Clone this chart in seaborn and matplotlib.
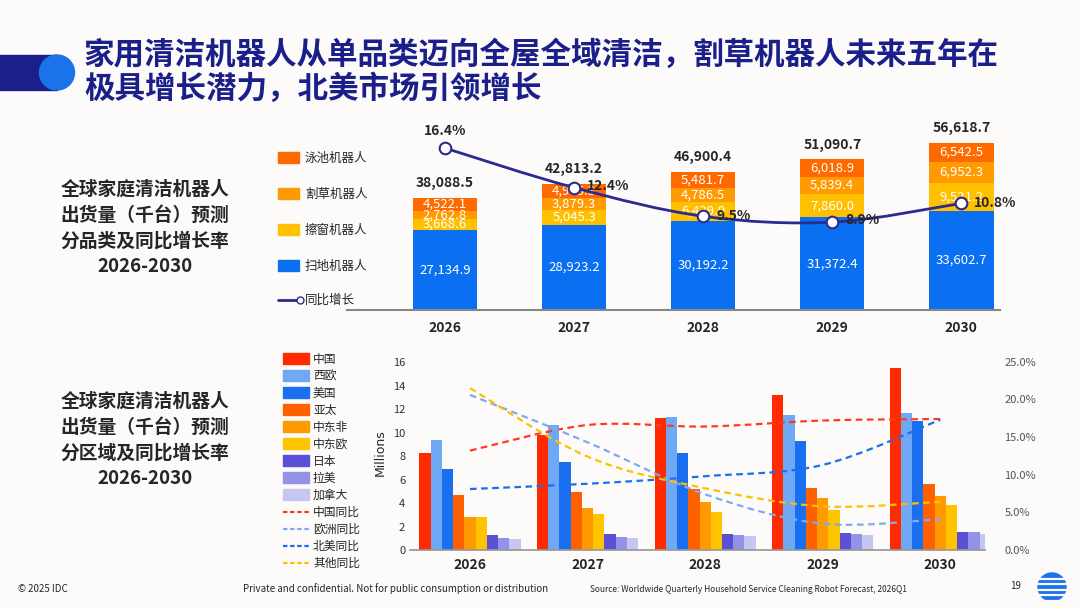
import numpy as np
import pandas as pd
import matplotlib
matplotlib.use("Agg")
import matplotlib.pyplot as plt
import matplotlib.ticker as mticker
from matplotlib.path import Path
from matplotlib.patches import PathPatch, Ellipse, Rectangle
import seaborn as sns

sns.set_theme(style="white")
plt.rcParams["font.family"] = ["Noto Sans CJK SC", "DejaVu Sans"]

# ── Data ─────────────────────────────────────────────────────────────────────
years = ["2026", "2027", "2028", "2029", "2030"]
floor = [27134.9, 28923.2, 30192.2, 31372.4, 33602.7]
window = [3668.6, 5045.3, 6439.9, 7860.0, 9521.2]
mower = [2762.8, 3879.3, 4786.5, 5839.4, 6952.3]
pool = [4522.1, 4965.3, 5481.7, 6018.9, 6542.5]
totals = [38088.5, 42813.2, 46900.4, 51090.7, 56618.7]
growth = [16.4, 12.4, 9.5, 8.9, 10.8]

regions = ["中国", "西欧", "美国", "亚太", "中东非", "中东欧", "日本", "拉美", "加拿大"]
region_vals = {
    "中国":  [8.3, 9.8, 11.2, 13.2, 15.5],
    "西欧":  [9.4, 10.6, 11.3, 11.5, 11.7],
    "美国":  [6.9, 7.5, 8.3, 9.3, 11.0],
    "亚太":  [4.7, 4.9, 5.2, 5.3, 5.6],
    "中东非": [2.8, 3.6, 4.1, 4.4, 4.6],
    "中东欧": [2.8, 3.1, 3.2, 3.4, 3.8],
    "日本":  [1.3, 1.4, 1.4, 1.45, 1.5],
    "拉美":  [1.0, 1.1, 1.3, 1.4, 1.5],
    "加拿大": [0.95, 1.05, 1.15, 1.3, 1.4],
}
yoy_names = ["中国同比", "欧洲同比", "北美同比", "其他同比"]
yoy_vals = {
    "中国同比": [13.2, 16.6, 16.4, 17.2, 17.4],
    "欧洲同比": [20.6, 14.3, 7.4, 3.5, 4.1],
    "北美同比": [8.1, 8.8, 9.8, 11.3, 17.3],
    "其他同比": [21.5, 12.4, 8.2, 5.8, 6.4],
}

NAVY = "#1b1f8a"
BLUE = "#0a6ff0"
seg_colors = [BLUE, "#ffc000", "#ff9a00", "#ff6a00"]
reg_colors = ["#ff2a00", "#6fa8f5", "#1a6ff0", "#ff6000", "#ff9a00",
              "#ffc400", "#5b4fd6", "#9293e8", "#c6c6f2"]
yoy_colors = ["#ff3b1f", "#7fa9f0", "#1a6ff0", "#ffc000"]
BG = "#fdfbf9"
W, H = 1080, 608


def smooth_path(xs, ys):
    # Catmull-Rom through the points, drawn as cubic Bezier segments
    pts = np.column_stack([xs, ys]).astype(float)
    verts = [pts[0]]
    codes = [Path.MOVETO]
    for i in range(len(pts) - 1):
        p0 = pts[i - 1] if i > 0 else pts[i]
        p1, p2 = pts[i], pts[i + 1]
        p3 = pts[i + 2] if i + 2 < len(pts) else pts[i + 1]
        verts += [p1 + (p2 - p0) / 6, p2 - (p3 - p1) / 6, p2]
        codes += [Path.CURVE4] * 3
    return Path(verts, codes)


def circle_px(cx, cy, r, color):
    fig.patches.append(Ellipse((cx / W, 1 - cy / H), 2 * r / W, 2 * r / H,
                               transform=fig.transFigure, color=color))


fig = plt.figure(figsize=(10.8, 6.08), dpi=100, facecolor=BG)

# ── Header ───────────────────────────────────────────────────────────────────
fig.patches.append(Rectangle((0, 1 - 90 / H), 57 / W, 35 / H,
                             transform=fig.transFigure, color=NAVY))
circle_px(57, 72.5, 17.5, "#1a73e8")
fig.text(84 / W, 1 - 55 / H, "家用清洁机器人从单品类迈向全屋全域清洁，割草机器人未来五年在",
         fontsize=22, fontweight="bold", color=NAVY, va="center")
fig.text(84 / W, 1 - 89 / H, "极具增长潜力，北美市场引领增长",
         fontsize=22, fontweight="bold", color=NAVY, va="center")

fig.text(145 / W, 1 - 228 / H, "全球家庭清洁机器人\n出货量（千台）预测\n分品类及同比增长率\n2026-2030",
         fontsize=13.5, fontweight="bold", ha="center", va="center", linespacing=1.45)
fig.text(145 / W, 1 - 440 / H, "全球家庭清洁机器人\n出货量（千台）预测\n分区域及同比增长率\n2026-2030",
         fontsize=13.5, fontweight="bold", ha="center", va="center", linespacing=1.45)

# ── Top chart ────────────────────────────────────────────────────────────────
ax = fig.add_axes([347 / W, 1 - 310 / H, 653 / W, 190 / H])
ax.set_facecolor("none")
x = np.arange(len(years))
bottom = np.zeros(len(years))
seg_names = ["扫地机器人", "擦窗机器人", "割草机器人", "泳池机器人"]
for vals, col in zip([floor, window, mower, pool], seg_colors):
    ax.bar(x, vals, bottom=bottom, width=0.5, color=col, linewidth=0)
    for xi, b, v in zip(x, bottom, vals):
        ax.text(xi, b + v / 2, f"{v:,.1f}",
                ha="center", va="center", color="white", fontsize=9.5)
    bottom += np.array(vals)
for xi, t in zip(x, totals):
    ax.text(xi, t + 2600, f"{t:,.1f}", ha="center", va="bottom",
            fontsize=10, fontweight="bold")
ax.set_xlim(-0.76, 4.3)
ax.set_ylim(0, 64400)
ax.set_yticks([])
ax.set_xticks(x)
ax.set_xticklabels(years, fontsize=10, fontweight="bold")
ax.tick_params(axis="x", length=0, pad=8)
for s in ["top", "right", "left"]:
    ax.spines[s].set_visible(False)
ax.spines["bottom"].set_color("#888888")
ax.spines["bottom"].set_linewidth(1.5)

ax2 = ax.twinx()
ax2.set_ylim(0, 19.25)
ax2.axis("off")
ax2.add_patch(PathPatch(smooth_path(x, growth), fill=False, edgecolor="#2a2a8f", lw=2))
ax2.scatter(x, growth, s=70, facecolor="white", edgecolor="#2a2a8f", lw=1.5, zorder=5)
offs = [(0, 1.0, "center"), (0.1, 0.15, "left"), (0.1, 0, "left"),
        (0.1, 0.2, "left"), (0.1, 0, "left")]
for xi, g, (dx, dy, ha) in zip(x, growth, offs):
    ax2.text(xi + dx, g + dy, f"{g}%", ha=ha, va="bottom" if dy > 0.5 else "center",
             fontsize=10, fontweight="bold")

# top legend
for i, (name, col) in enumerate(zip(seg_names[::-1], seg_colors[::-1])):
    yy = 1 - (158 + 36 * i) / H
    fig.patches.append(Rectangle((278 / W, yy - 5 / H), 21 / W, 11 / H,
                                 transform=fig.transFigure, color=col))
    fig.text(305 / W, yy, name, fontsize=9, va="center")
yy = 1 - 300 / H
fig.lines.append(plt.Line2D([278 / W, 300 / W], [yy, yy], transform=fig.transFigure,
                            color="#2a2a8f", lw=2, marker="o", markevery=[1],
                            markerfacecolor="white", markersize=5))
fig.text(305 / W, yy, "同比增长", fontsize=9, va="center")

# ── Bottom chart ─────────────────────────────────────────────────────────────
bx = fig.add_axes([410 / W, 1 - 550 / H, 575 / W, 195 / H])
bx.set_facecolor("none")
rows = [(y, r, v) for r in regions for y, v in zip(years, region_vals[r])]
df = pd.DataFrame(rows, columns=["year", "region", "value"])
sns.barplot(data=df, x="year", y="value", hue="region", hue_order=regions,
            palette=reg_colors, saturation=1, ax=bx, width=0.86, linewidth=0,
            legend=False)
bx.set_xlim(-0.51, 4.38)
bx.set_ylim(0, 16.6)
bx.set_yticks(range(0, 17, 2))
bx.tick_params(axis="y", labelsize=8, length=0, labelcolor="#333333")
bx.tick_params(axis="x", length=0, labelsize=10, pad=6)
for lab in bx.get_xticklabels():
    lab.set_fontweight("bold")
bx.set_xlabel("")
bx.set_ylabel("Millions", fontsize=9, family="DejaVu Sans")
for s in ["top", "right", "left"]:
    bx.spines[s].set_visible(False)
bx.spines["bottom"].set_color("#999999")

bx2 = bx.twinx()
bx2.set_ylim(0, 25.9)
bx2.set_yticks(np.arange(0, 26, 5))
bx2.yaxis.set_major_formatter(mticker.FuncFormatter(lambda v, _: f"{v:.1f}%"))
bx2.tick_params(axis="y", labelsize=8, length=0, labelcolor="#555555", pad=14)
for s in ["top", "right", "left", "bottom"]:
    bx2.spines[s].set_visible(False)
for name, col in zip(yoy_names, yoy_colors):
    bx2.add_patch(PathPatch(smooth_path(np.arange(5), yoy_vals[name]), fill=False,
                            edgecolor=col, lw=1.6, linestyle=(0, (3, 2))))

# bottom legend
for i, (name, col) in enumerate(zip(regions, reg_colors)):
    yy = 1 - (359 + 17 * i) / H
    fig.patches.append(Rectangle((283 / W, yy - 5 / H), 26 / W, 11 / H,
                                 transform=fig.transFigure, color=col))
    fig.text(313 / W, yy, name, fontsize=8.5, va="center")
for j, (name, col) in enumerate(zip(yoy_names, yoy_colors)):
    yy = 1 - (359 + 17 * (9 + j)) / H
    fig.lines.append(plt.Line2D([283 / W, 309 / W], [yy, yy], transform=fig.transFigure,
                                color=col, lw=1.6, linestyle=(0, (2, 1.2))))
    fig.text(313 / W, yy, name, fontsize=8.5, va="center")

# ── Footer ───────────────────────────────────────────────────────────────────
fy = 1 - 589 / H
fig.text(18 / W, fy, "© 2025 IDC", fontsize=7, va="center")
fig.text(243 / W, fy, "Private and confidential. Not for public consumption or distribution",
         fontsize=7, va="center")
fig.text(590 / W, fy, "Source: Worldwide Quarterly Household Service Cleaning Robot Forecast, 2026Q1",
         fontsize=6, va="center")
fig.text(1010 / W, fy + 3 / H, "19", fontsize=7, va="center")
circle_px(1052, 587, 14, "#1a73e8")
for k in range(-2, 3):
    yk = 1 - (587 + k * 5.5 + 2.7) / H
    fig.lines.append(plt.Line2D([1036 / W, 1068 / W], [yk, yk],
                                transform=fig.transFigure, color=BG, lw=1.6))

fig.savefig("out.png", dpi=100, facecolor=BG)
